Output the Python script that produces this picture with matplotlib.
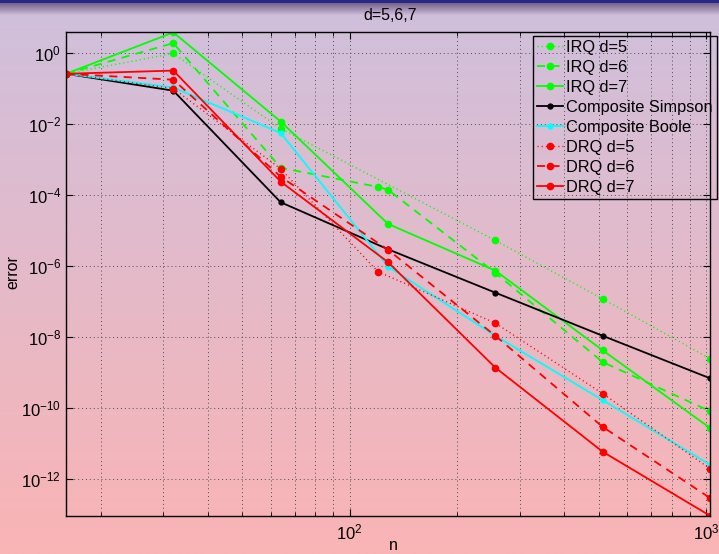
import numpy as np
import matplotlib
matplotlib.use("Agg")
import matplotlib.pyplot as plt
from matplotlib.ticker import FixedLocator, LogFormatterSciNotation, NullFormatter

plt.rcParams['font.family'] = ['Liberation Sans', 'DejaVu Sans']
plt.rcParams['mathtext.default'] = 'regular'
plt.rcParams['font.size'] = 11.5

# values
n_pow2 = [16, 32, 64, 128, 256, 512, 1024]
n_irq5 = [16, 32, 64, 256, 512, 1024]
n_irq6 = [16, 32, 64, 120, 128, 256, 512, 1024]
n_drq5 = [16, 32, 64, 120, 256, 512, 1024]

irq5 = [0.26, 0.97, 7.5e-3, 5.3e-6, 1.2e-7, 2.5e-9]
irq6 = [0.26, 1.9, 5.9e-4, 1.7e-4, 1.42e-4, 6.5e-7, 2.0e-9, 8.3e-11]
irq7 = [0.26, 3.8, 1.18e-2, 1.55e-5, 7.5e-7, 4.3e-9, 2.8e-11]
simpson = [0.26, 0.087, 6.3e-5, 3.0e-6, 1.8e-7, 1.1e-8, 7.0e-10]
boole = [0.26, 0.107, 5.6e-3, 9.8e-7, 1.1e-8, 1.7e-10, 2.6e-12]
drq5 = [0.26, 0.10, 5.5e-4, 7.0e-7, 2.5e-8, 2.6e-10, 2.0e-12]
drq6 = [0.26, 0.177, 3.3e-4, 2.9e-6, 1.1e-8, 3.0e-11, 3.0e-13]
drq7 = [0.26, 0.32, 2.4e-4, 1.3e-6, 1.4e-9, 6.0e-12, 9.5e-14]

W, H = 719, 554
fig = plt.figure(figsize=(W / 100, H / 100), dpi=100)

# background gradient with the dark bar at the top
top = np.array([207, 192, 221]) / 255
bot = np.array([250, 180, 181]) / 255
rows = np.linspace(0, 1, H)[:, None]
grad = top + (bot - top) * rows
bar = np.array([40, 40, 135]) / 255
shade = np.array([120, 100, 140]) / 255
for i in range(16):
    if i < 3:
        grad[i] = bar
    else:
        t = (i - 3) / 12
        grad[i] = shade + (grad[i] - shade) * t
img = np.repeat(grad[:, None, :], 4, axis=1)
bg = fig.add_axes([0, 0, 1, 1], zorder=-1)
bg.imshow(img, aspect='auto', extent=[0, 1, 0, 1], interpolation='bilinear')
bg.axis('off')

ax = fig.add_axes([66 / W, 1 - 515.7 / H, (710 - 66) / W, (515.7 - 32) / H])
ax.set_facecolor('none')

lw = 1.3
dot = (0.8, 2.2)
dash = (4.5, 3.5)
ax.loglog(n_irq5, irq5, color='#00ff00', marker='o', ms=4.5, lw=1.0, dashes=dot, label='IRQ d=5')
ax.loglog(n_irq6, irq6, color='#00ff00', marker='o', ms=4.5, lw=lw, dashes=dash, label='IRQ d=6')
ax.loglog(n_pow2, irq7, '-', color='#00ff00', marker='o', ms=4.5, lw=lw, label='IRQ d=7')
ax.loglog(n_pow2, simpson, '-', color='black', marker='o', ms=3.5, lw=lw, label='Composite Simpson')
ax.loglog(n_pow2, boole, '-', color='#00ffff', marker='o', ms=3.5, lw=lw, label='Composite Boole')
ax.loglog(n_drq5, drq5, color='#ff0000', marker='o', ms=4.5, lw=1.0, dashes=dot, label='DRQ d=5')
ax.loglog(n_pow2, drq6, color='#ff0000', marker='o', ms=4.5, lw=lw, dashes=dash, label='DRQ d=6')
ax.loglog(n_pow2, drq7, '-', color='#ff0000', marker='o', ms=4.5, lw=lw, label='DRQ d=7')

ax.set_xlim(16, 1024)
ax.set_ylim(9.5e-14, 3.9)

ax.xaxis.set_major_locator(FixedLocator([100, 1000]))
ax.xaxis.set_minor_locator(FixedLocator([20, 30, 40, 50, 60, 70, 80, 90,
                                         200, 300, 400, 500, 600, 700, 800, 900]))
ax.xaxis.set_minor_formatter(NullFormatter())
ax.yaxis.set_major_locator(FixedLocator([10.0 ** k for k in range(0, -13, -2)]))
ax.yaxis.set_minor_locator(FixedLocator([]))
ax.xaxis.set_major_formatter(LogFormatterSciNotation())
ax.yaxis.set_major_formatter(LogFormatterSciNotation())

ax.tick_params(which='both', direction='in', top=True, right=True, labelsize=12)
ax.tick_params(axis='x', pad=5)
ax.tick_params(which='major', length=5)
ax.tick_params(which='minor', length=3)
ax.grid(True, which='major', color='0.3', lw=0.7, dashes=(1, 3))
ax.grid(True, which='minor', axis='x', color='0.3', lw=0.7, dashes=(1, 3))
for s in ax.spines.values():
    s.set_linewidth(1.0)

# axis labels placed by hand, as in the reference
fig.text(393 / W, 1 - 546 / H, 'n', ha='center', va='center', fontsize=11.5)
fig.text(13 / W, 1 - 272 / H, 'error', ha='center', va='center',
         rotation=90, fontsize=11.5)
fig.text(390 / W, 1 - 15 / H, 'd=5,6,7', ha='center', va='center', fontsize=11.5)

leg = ax.legend(loc='upper right', bbox_to_anchor=(717 / W, 1 - 36 / H),
                bbox_transform=fig.transFigure, borderaxespad=0, numpoints=1,
                handlelength=1.6, handletextpad=0.2, labelspacing=0.3,
                borderpad=0.25, fancybox=False, framealpha=1, fontsize=11.8)
leg.get_frame().set_facecolor('none')
leg.get_frame().set_edgecolor('black')
leg.get_frame().set_linewidth(1.0)

fig.savefig('out.png', dpi=100)
